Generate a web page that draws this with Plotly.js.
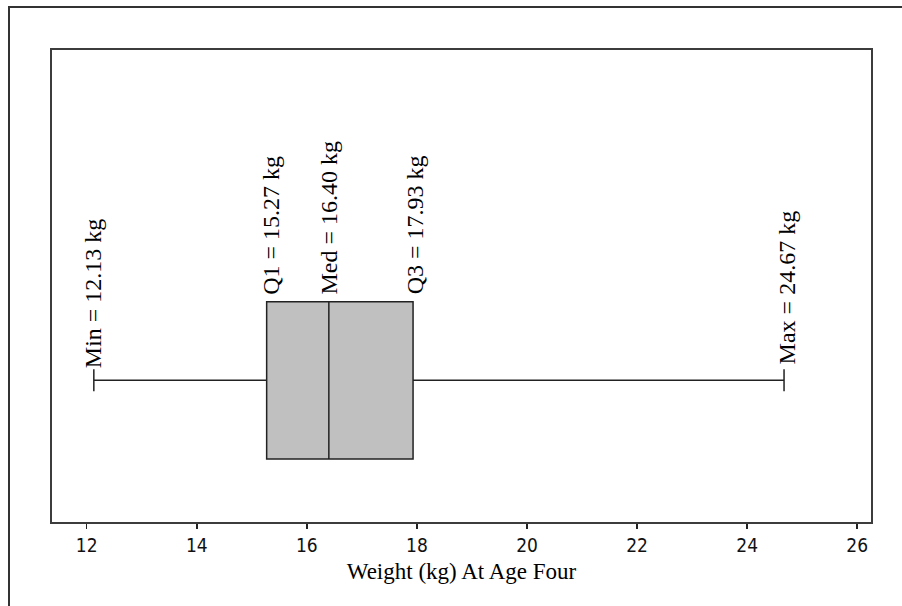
<!DOCTYPE html>
<html>
<head>
<meta charset="utf-8">
<script src="https://cdn.plot.ly/plotly-3.0.1.min.js"></script>
<style>
  html, body { margin: 0; padding: 0; width: 902px; height: 606px; overflow: hidden; background: #fff; }
  #chart { position: absolute; left: 0; top: 0; width: 902px; height: 606px; }
  #frame { position: absolute; left: 8px; top: 6px; width: 1000px; height: 1000px;
           border: 2px solid #333; pointer-events: none; }
</style>
</head>
<body>
<div id="chart"></div>
<div id="frame"></div>
<script>
// ---- data ----
const statNames = ["Min", "Q1", "Med", "Q3", "Max"];
const statValues = [12.13, 15.27, 16.40, 17.93, 24.67];
const unitLabel = "kg";
const xTickValues = [12, 14, 16, 18, 20, 22, 24, 26];
const xTitle = "Weight (kg) At Age Four";

// ---- chart ----
const [vMin, vQ1, vMed, vQ3, vMax] = statValues;

const trace = {
  type: "box",
  orientation: "h",
  y: [0],
  q1: [vQ1],
  median: [vMed],
  q3: [vQ3],
  lowerfence: [vMin],
  upperfence: [vMax],
  width: 1,
  whiskerwidth: 0.14,
  boxpoints: false,
  fillcolor: "#c0c0c0",
  line: { color: "#222", width: 1.5 },
  hoverinfo: "skip",
  showlegend: false
};

const serif = "Liberation Serif, Times New Roman, serif";
const onWhisker = { Min: true, Max: true };
const xShift = { Min: 0, Q1: 5, Med: 0, Q3: 2, Max: 3 };

const annotations = statNames.map((n, i) => ({
  x: statValues[i],
  y: onWhisker[n] ? 0 : 0.5,
  xref: "x", yref: "y",
  text: n + " = " + statValues[i].toFixed(2) + " " + unitLabel,
  textangle: -90,
  showarrow: false,
  xanchor: "center",
  yanchor: "bottom",
  yshift: onWhisker[n] ? (n === "Max" ? 14 : 10) : 5,
  xshift: xShift[n],
  font: { family: serif, size: 24, color: "#000" }
}));

const layout = {
  width: 902, height: 606,
  margin: { l: 52, r: 31, t: 50, b: 84 },
  paper_bgcolor: "#fff",
  plot_bgcolor: "#fff",
  showlegend: false,
  xaxis: {
    range: [11.37, 26.25],
    tickvals: xTickValues,
    ticktext: xTickValues.map(String),
    ticks: "outside", ticklen: 5, tickwidth: 1.5, tickcolor: "#222",
    showline: true, mirror: true, linecolor: "#3c3c3c", linewidth: 2,
    showgrid: false, zeroline: false,
    tickfont: { family: "DejaVu Sans Condensed, DejaVu Sans, sans-serif", size: 19, color: "#111" },
    title: { text: xTitle, font: { family: serif, size: 23, color: "#000" }, standoff: 8 }
  },
  yaxis: {
    range: [-0.9005, 2.1],
    showticklabels: false, ticks: "",
    showline: true, mirror: true, linecolor: "#3c3c3c", linewidth: 2,
    showgrid: false, zeroline: false
  },
  annotations: annotations
};

Plotly.newPlot("chart", [trace], layout, { staticPlot: true, displayModeBar: false });
</script>
</body>
</html>
